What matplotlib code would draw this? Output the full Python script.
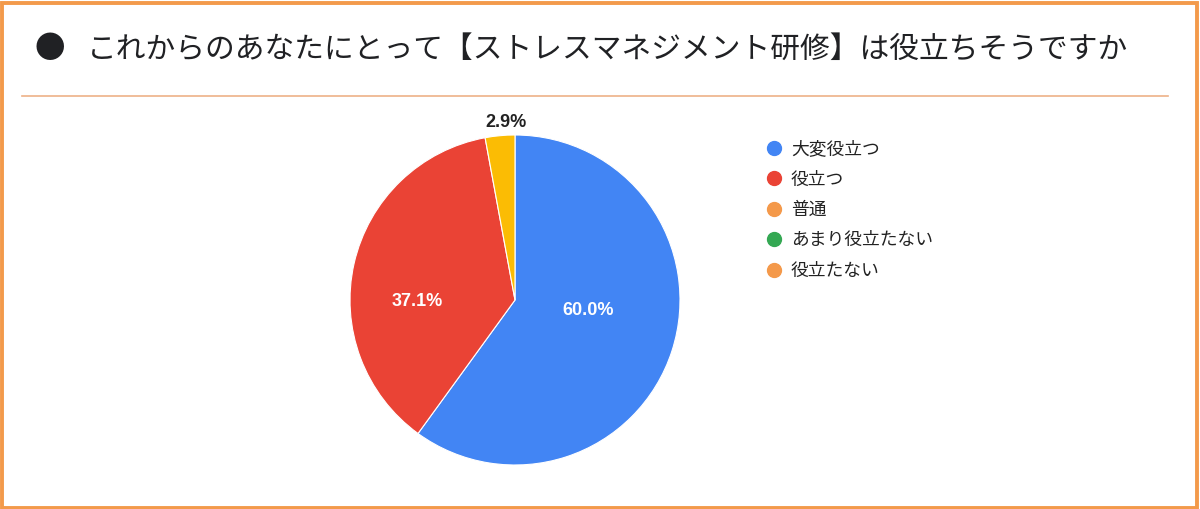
import matplotlib
matplotlib.use("Agg")
import matplotlib.pyplot as plt
from matplotlib.lines import Line2D
from matplotlib.patches import Rectangle
import numpy as np

plt.rcParams['font.family'] = ['Noto Sans CJK JP', 'DejaVu Sans']

# data
title = "これからのあなたにとって【ストレスマネジメント研修】は役立ちそうですか"
categories = ["大変役立つ", "役立つ", "普通", "あまり役立たない", "役立たない"]
values = [60.0, 37.1, 2.9, 0.0, 0.0]
slice_colors = ["#4285F4", "#EA4335", "#FBBC04", "#34A853", "#FF9A3C"]
legend_colors = ["#4285F4", "#EA4335", "#F4994A", "#34A853", "#F4994A"]
pct_labels = ["60.0%", "37.1%", "2.9%"]
pct_colors = ["white", "white", "#222222"]
# label offsets as (radius fraction, angle in degrees)
pct_pos = [(0.45, -8), (0.59, 181), (1.08, 93)]

W, H = 1200, 509
fig = plt.figure(figsize=(W / 100, H / 100), dpi=100)
fig.patch.set_facecolor("white")

# frame around the whole picture
fig.patches.append(Rectangle((1.5 / W, 1.5 / H), 1 - 5 / W, 1 - 4.5 / H,
                             transform=fig.transFigure, fill=False,
                             edgecolor="#F39A4B", linewidth=2.8))
# separator under the title
fig.add_artist(Line2D([22 / W, 1168 / W], [1 - 96 / H, 1 - 96 / H],
                      transform=fig.transFigure, color="#EDB187", linewidth=1.2))

# title
fig.text(34 / W, 1 - 50 / H, "●", fontsize=22, color="#202124",
         va="center", ha="left")
fig.text(87 / W, 1 - 50 / H, title, fontsize=21.4, color="#202124",
         va="center", ha="left")

# pie
cx, cy, r = 515, 300, 165
ax = fig.add_axes([(cx - r) / W, (H - cy - r) / H, 2 * r / W, 2 * r / H])
nz = [v for v in values if v > 0]
ax.pie(nz, colors=slice_colors[:len(nz)], startangle=90, counterclock=False,
       radius=1.0, wedgeprops=dict(edgecolor="white", linewidth=0.8))
ax.set_xlim(-1, 1)
ax.set_ylim(-1, 1)
ax.set_aspect("auto")
ax.axis("off")

for lab, col, (d, ang) in zip(pct_labels, pct_colors, pct_pos):
    a = np.deg2rad(ang)
    ax.text(d * np.cos(a), d * np.sin(a), lab, color=col, fontsize=13,
            fontweight="bold", ha="center", va="center",
            family=["Liberation Sans", "DejaVu Sans"], clip_on=False)

# legend
handles = [Line2D([], [], marker="o", linestyle="none", markersize=10,
                  markerfacecolor=c, markeredgecolor=c) for c in legend_colors]
fig.legend(handles, categories, loc="upper left",
           bbox_to_anchor=(758 / W, 1 - 133 / H), frameon=False,
           fontsize=12.8, labelspacing=0.7, handletextpad=0.45,
           handlelength=1.0, borderaxespad=0, labelcolor="#222222")

fig.savefig("out.png", dpi=100, facecolor="white")
